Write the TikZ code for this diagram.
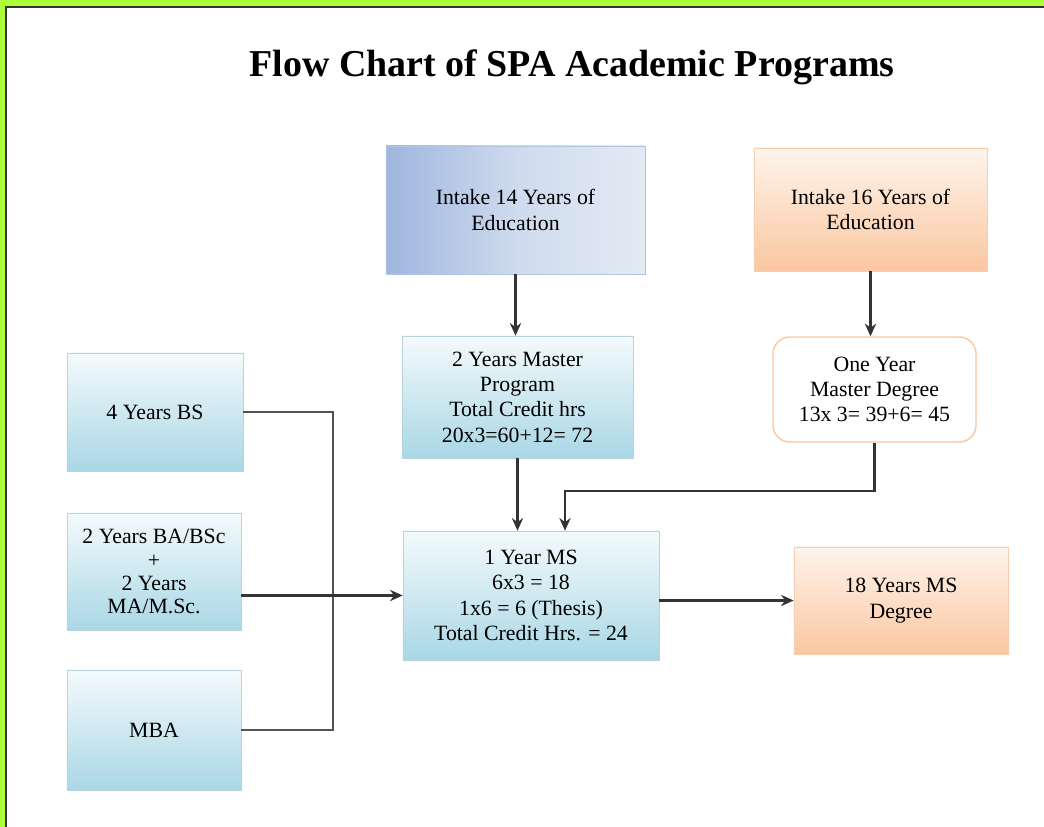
\documentclass[tikz,border=0pt]{standalone}
\usepackage{fontspec}
\setmainfont{Liberation Serif}
\usetikzlibrary{positioning,arrows.meta}

\definecolor{framegreen}{HTML}{ADFF3A}
\definecolor{lineclr}{HTML}{333333}
\definecolor{cyantop}{HTML}{F4FAFC}
\definecolor{cyanbot}{HTML}{A9D7E5}
\definecolor{cyanedge}{HTML}{B9D3DC}
\definecolor{bluedark}{HTML}{9EB6DE}
\definecolor{bluelight}{HTML}{E3EAF4}
\definecolor{orangetop}{HTML}{FEF4EC}
\definecolor{orangebot}{HTML}{FAC7A0}
\definecolor{orangeedge}{HTML}{F7CFB0}

\tikzset{
    box/.style={rectangle, align=center, inner sep=2pt,
        font=\fontsize{15.5}{18}\selectfont},
    cyanbox/.style={box, draw=cyanedge, top color=cyantop, bottom color=cyanbot},
    bluebox/.style={box, draw=bluedark!80, left color=bluedark, right color=bluelight,
        middle color=bluelight!70!bluedark},
    orangebox/.style={box, draw=orangeedge, top color=orangetop, bottom color=orangebot},
    roundbox/.style={box, draw=orangebot, line width=1pt, fill=white, rounded corners=12pt},
    sidebox/.style={cyanbox, font=\fontsize{15.5}{16.4}\selectfont},
    flow/.style={draw=lineclr, line width=1.6pt},
    busline/.style={draw=lineclr!85, line width=1.4pt},
}

\begin{document}
\begin{tikzpicture}[x=0.025cm, y=-0.025cm, >={Stealth[length=9pt,width=8pt]}]
% frame
\useasboundingbox (0,0) rectangle (1044,827);
\fill[framegreen] (0,0) rectangle (1044,827);
\fill[white] (7,8) rectangle (1044,827);
\draw[lineclr, line width=1.6pt] (6,827) -- (6,7) -- (1044,7);

\node[anchor=base] (title) at (572,77) {\fontsize{27}{32}\selectfont\bfseries
    Flow Chart of SPA Academic Programs};

% top row
\node[bluebox, minimum width=6.475cm, minimum height=3.2cm] (i14) at (515.5,210)
    {Intake 14 Years of\\Education};
\node[orangebox, minimum width=5.825cm, minimum height=3.075cm] (i16) at (870.5,209.5)
    {Intake 16 Years of\\Education};

% second row
\node[cyanbox, minimum width=5.775cm, minimum height=3.05cm] (master) at (517.5,397)
    {2 Years Master\\Program\\Total Credit hrs\\20x3=60+12= 72};
\node[roundbox, minimum width=5.075cm, minimum height=2.625cm] (oneyr) at (874.5,389.5)
    {One Year\\Master Degree\\13x 3= 39+6= 45};

% left column
\node[sidebox, minimum width=4.4cm, minimum height=2.95cm] (bs) at (155,412)
    {4 Years BS};
\node[sidebox, minimum width=4.35cm, minimum height=2.925cm] (ba) at (154,571.5)
    {2 Years BA/BSc\\+\\2 Years\\MA/M.Sc.};
\node[sidebox, minimum width=4.35cm, minimum height=3cm] (mba) at (154,730)
    {MBA};

% MS and degree
\node[cyanbox, minimum width=6.4cm, minimum height=3.225cm] (ms) at (531,595.5)
    {1 Year MS\\6x3 = 18\\1x6 = 6 (Thesis)\\Total Credit Hrs. = 24};
\node[orangebox, minimum width=5.35cm, minimum height=2.675cm] (deg) at (901,600.5)
    {18 Years MS\\Degree};

% connectors
\coordinate (bus) at (333,595.5);
\coordinate (msin) at ([xshift=0.85cm]ms.north);
\draw[flow,->] (i14.south) -- (i14.south |- master.north);
\draw[flow,->] (i16.south) -- (i16.south |- oneyr.north);
\draw[flow,->] (master.south) -- (master.south |- ms.north);
\draw[flow,->] (oneyr.south) -- ++(0,48) -| (msin);
\draw[busline] (bs.east) -| (bus);
\draw[busline] (mba.east) -| (bus);
\draw[flow,->] (ba.east |- ms.west) -- (ms.west);
\draw[flow,->] (ms.east |- deg.west) -- (deg.west);
\end{tikzpicture}
\end{document}
